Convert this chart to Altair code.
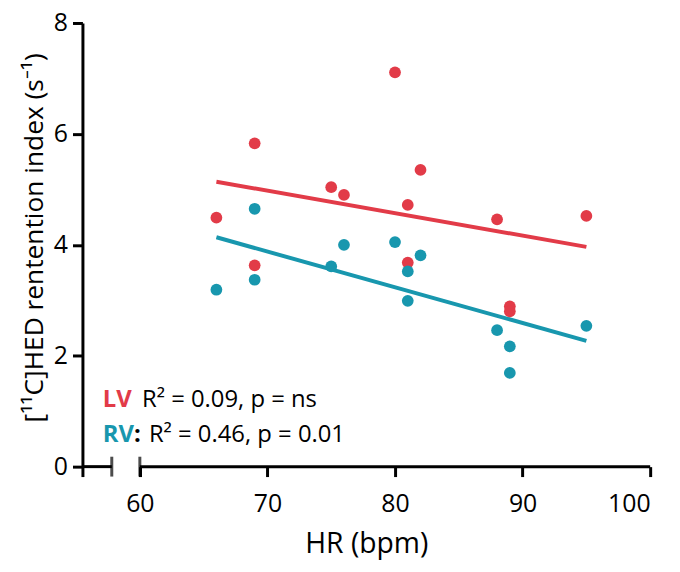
import altair as alt
import pandas as pd

# heart rate (bpm) and [11C]HED retention index for each subject
hr = [66, 69, 69, 75, 76, 80, 81, 81, 82, 88, 89, 89, 95]
lv_index = [4.49, 5.83, 3.63, 5.04, 4.90, 7.11, 4.72, 3.68, 5.35, 4.46, 2.89, 2.80, 4.52]
rv_index = [3.19, 4.65, 3.37, 3.61, 4.00, 4.05, 3.52, 2.99, 3.81, 2.46, 2.17, 1.69, 2.54]

chambers = ['LV', 'RV']
colors = ['#E23B48', '#1897AE']
stats = ['R² = 0.09, p = ns', 'R² = 0.46, p = 0.01']

# broken x axis: a short stub, a gap, then 60-100
axis_start = [55.5, 60]
axis_end = [57.8, 100]
x_ticks = [55.5, 60, 70, 80, 90, 100]
y_ticks = [0, 2, 4, 6, 8]

FONT = 'Open Sans'

df = pd.DataFrame({
    'hr': hr * 2,
    'value': lv_index + rv_index,
    'chamber': ['LV'] * len(hr) + ['RV'] * len(hr),
})
segments = pd.DataFrame({'x': axis_start, 'x2': axis_end, 'y': [0, 0]})
caps = pd.DataFrame({'x': [axis_end[0], axis_start[1]], 'y': [0, 0]})

x_scale = alt.Scale(domain=[55.5, 100], nice=False, zero=False)
y_scale = alt.Scale(domain=[0, 8], nice=False)
color_scale = alt.Scale(domain=chambers, range=colors)

points = alt.Chart(df).mark_circle(size=140, opacity=1).encode(
    x=alt.X('hr:Q', scale=x_scale,
            axis=alt.Axis(values=x_ticks, domain=False, title='HR (bpm)',
                          labelExpr="datum.value < 60 ? '' : datum.label",
                          labelBaseline='alphabetic', labelPadding=35,
                          titleX=286, titleY=87, titleAlign='center',
                          titleBaseline='alphabetic', titleFontSize=28.5)),
    y=alt.Y('value:Q', scale=y_scale,
            axis=alt.Axis(values=y_ticks, format='d',
                          title='[¹¹C]HED rentention index (s⁻¹)',
                          labelPadding=5, titleX=-40, titleY=216,
                          titleAlign='center', titleBaseline='alphabetic',
                          titleFontSize=26.5)),
    color=alt.Color('chamber:N', scale=color_scale, legend=None),
)

fits = alt.Chart(df).transform_regression(
    'hr', 'value', groupby=['chamber']
).mark_line(strokeWidth=4).encode(
    x='hr:Q',
    y='value:Q',
    color=alt.Color('chamber:N', scale=color_scale, legend=None),
)

x_line = alt.Chart(segments).mark_rule(strokeWidth=3, color='black').encode(
    x='x:Q', x2='x2:Q', y='y:Q'
)
x_caps = alt.Chart(caps).mark_tick(orient='vertical', size=20, thickness=3,
                                   color='black').encode(x='x:Q', y='y:Q')


def note(text, x, y, color='black', weight='normal'):
    return alt.Chart(pd.DataFrame({'text': [text]})).mark_text(
        align='left', baseline='alphabetic', font=FONT, fontSize=24,
        fontWeight=weight, color=color
    ).encode(x=alt.datum(x), y=alt.datum(y), text='text:N')


notes = [
    note('LV', 57.1, 1.08, colors[0], 'bold'),
    note(stats[0], 60.17, 1.08),
    note('RV', 57.1, 0.45, colors[1], 'bold'),
    note(':', 59.55, 0.45, 'black', 'bold'),
    note(stats[1], 60.71, 0.45),
]

chart = alt.layer(fits, points, x_line, x_caps, *notes).properties(
    width=572,
    height=447,
    autosize=alt.AutoSizeParams(type='none'),
    padding={'left': 75, 'top': 13, 'right': 22, 'bottom': 96},
).configure_view(
    strokeWidth=0
).configure_axis(
    grid=False,
    domainColor='black',
    domainWidth=3,
    tickColor='black',
    tickWidth=3,
    tickSize=10,
    labelFont=FONT,
    labelFontSize=25,
    labelColor='black',
    titleFont=FONT,
    titleFontSize=28,
    titleFontWeight='normal',
    titleColor='black',
)

chart.save('out.html', embed_options={'renderer': 'svg', 'actions': False})
